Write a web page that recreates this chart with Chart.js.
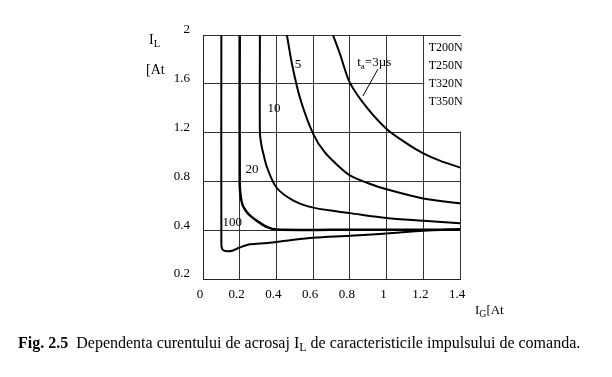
<!DOCTYPE html>
<html>
<head>
<meta charset="utf-8">
<script src="https://cdn.jsdelivr.net/npm/chart.js@4"></script>
<style>
  body { margin: 0; background: #fff; }
  #wrap { position: relative; width: 612px; height: 377px; font-family: "Liberation Serif", "Times New Roman", serif; color: #000; }
  #wrap canvas { position: absolute; left: 0; top: 0; }
  .txt { position: absolute; white-space: nowrap; line-height: 1; }
  sub { font-size: 75%; vertical-align: -3px; line-height: 0; }
</style>
</head>
<body>
<div id="wrap">
  <canvas id="chart" width="612" height="377"></canvas>
  <div class="txt" style="left:149px; top:33px; font-size:14px;">I<sub>L</sub></div>
  <div class="txt" style="left:146px; top:63px; font-size:14px;">[At</div>
  <div class="txt" style="left:475px; top:303px; font-size:13px;">I<sub>G</sub>[At</div>
  <div class="txt" style="left:18px; top:335px; font-size:16px;"><b>Fig. 2.5</b>&nbsp; Dependenta curentului de acrosaj I<sub>L</sub> de caracteristicile impulsului de comanda.</div>
</div>
<script>
// tick labels as printed on the figure
const xTickLabels = ['0', '0.2', '0.4', '0.6', '0.8', '1', '1.2', '1.4'];
const yTickLabels = ['0.2', '0.4', '0.8', '1.2', '1.6', '2'];

// thyristor types listed in the corner
const deviceNames = ['T200N', 'T250N', 'T320N', 'T350N'];

// curve 100
const curve100X = [0.1, 0.1, 0.104, 0.115, 0.135, 0.16, 0.2, 0.256, 0.35, 0.474, 0.6, 0.8, 1.0, 1.2, 1.4];
const curve100Y = [2.0, 0.29, 0.248, 0.232, 0.228, 0.232, 0.258, 0.284, 0.295, 0.318, 0.338, 0.354, 0.373, 0.395, 0.41];

// curve 20
const curve20X = [0.2, 0.2, 0.205, 0.215, 0.235, 0.26, 0.3, 0.35, 0.4, 0.7, 1.0, 1.4];
const curve20Y = [2.0, 0.78, 0.68, 0.61, 0.555, 0.515, 0.47, 0.425, 0.405, 0.403, 0.403, 0.404];

// curve 10
const curve10X = [0.31, 0.31, 0.318, 0.33, 0.35, 0.4, 0.49, 0.6, 0.75, 0.8, 1.0, 1.2, 1.4];
const curve10Y = [2.0, 1.2, 1.1, 1.02, 0.91, 0.75, 0.645, 0.585, 0.55, 0.54, 0.5, 0.478, 0.457];

// curve 5
const curve5X = [0.457, 0.485, 0.528, 0.6, 0.664, 0.746, 0.8, 0.9, 1.0, 1.2, 1.4];
const curve5Y = [2.0, 1.76, 1.486, 1.19, 1.037, 0.914, 0.849, 0.785, 0.735, 0.66, 0.62];

// curve ta = 3us
const curve3X = [0.708, 0.746, 0.8, 0.893, 1.0, 1.111, 1.2, 1.29, 1.4];
const curve3Y = [2.0, 1.845, 1.61, 1.404, 1.23, 1.11, 1.03, 0.97, 0.914];

// text placed next to the curves (data units)
const curveNotes = [
    { text: '5', x: 0.5, y: 1.76 },
    { text: '10', x: 0.352, y: 1.4 },
    { text: '20', x: 0.232, y: 0.9 },
    { text: '100', x: 0.106, y: 0.465 }
];

function toPoints(xs, ys) {
    return xs.map((x, i) => ({ x: x, y: ys[i] }));
}

const serif = '"Liberation Serif", "Times New Roman", serif';

const figurePlugin = {
    id: 'figure',
    beforeDatasetsDraw(chart) {
        const ctx = chart.ctx;
        const xs = chart.scales.x;
        const ys = chart.scales.y;
        const left = xs.getPixelForValue(1.2);
        const right = xs.getPixelForValue(1.4);
        const top = ys.getPixelForValue(2);
        const mid = ys.getPixelForValue(1.2);

        // open box for the device list, no grid inside
        ctx.save();
        ctx.fillStyle = '#fff';
        ctx.fillRect(left + 1, top + 1, right - left + 3, mid - top - 2);
        ctx.restore();
    },
    afterDraw(chart) {
        const ctx = chart.ctx;
        const xs = chart.scales.x;
        const ys = chart.scales.y;

        ctx.save();
        ctx.fillStyle = '#000';
        ctx.textBaseline = 'middle';
        ctx.font = '13px ' + serif;
        curveNotes.forEach(n => {
            ctx.fillText(n.text, xs.getPixelForValue(n.x), ys.getPixelForValue(n.y));
        });

        // device list
        ctx.font = '12px ' + serif;
        deviceNames.forEach((name, i) => {
            ctx.fillText(name, xs.getPixelForValue(1.23), ys.getPixelForValue(1.894 - i * 0.147));
        });

        // ta = 3us label with leader
        ctx.font = '13px ' + serif;
        let px = xs.getPixelForValue(0.84);
        const py = ys.getPixelForValue(1.77);
        ctx.fillText('t', px, py);
        px += ctx.measureText('t').width;
        ctx.font = '9px ' + serif;
        ctx.fillText('a', px, py + 4);
        px += ctx.measureText('a').width;
        ctx.font = '13px ' + serif;
        ctx.fillText('=3\u00b5s', px, py);

        ctx.strokeStyle = '#000';
        ctx.lineWidth = 1;
        ctx.beginPath();
        ctx.moveTo(xs.getPixelForValue(0.953), ys.getPixelForValue(1.72));
        ctx.lineTo(xs.getPixelForValue(0.871), ys.getPixelForValue(1.5));
        ctx.stroke();
        ctx.restore();
    }
};

const lineStyle = {
    borderColor: '#000',
    borderWidth: 2,
    pointRadius: 0,
    tension: 0.3,
    fill: false
};

new Chart(document.getElementById('chart'), {
    type: 'line',
    data: {
        datasets: [
            Object.assign({ label: '100', data: toPoints(curve100X, curve100Y) }, lineStyle),
            Object.assign({ label: '20', data: toPoints(curve20X, curve20Y) }, lineStyle, { borderWidth: 2.5 }),
            Object.assign({ label: '10', data: toPoints(curve10X, curve10Y) }, lineStyle),
            Object.assign({ label: '5', data: toPoints(curve5X, curve5Y) }, lineStyle),
            Object.assign({ label: '3us', data: toPoints(curve3X, curve3Y) }, lineStyle)
        ]
    },
    options: {
        responsive: false,
        animation: false,
        layout: { padding: { left: 0, right: 152, top: 35, bottom: 0 } },
        plugins: {
            legend: { display: false },
            tooltip: { enabled: false }
        },
        scales: {
            x: {
                type: 'linear',
                min: 0,
                max: 1.4,
                afterFit(scale) { scale.height = 98; },
                border: { color: '#222', width: 1 },
                grid: { color: '#333', lineWidth: 1, drawTicks: false },
                ticks: {
                    stepSize: 0.2,
                    padding: 8,
                    labelOffset: -3,
                    color: '#000',
                    font: { family: serif, size: 13 },
                    callback: (v, i) => xTickLabels[i]
                }
            },
            y: {
                type: 'linear',
                min: 0,
                max: 2,
                afterFit(scale) { scale.width = 203; },
                border: { color: '#222', width: 1 },
                grid: { color: '#333', lineWidth: 1, drawTicks: false },
                ticks: {
                    stepSize: 0.4,
                    padding: 13,
                    labelOffset: -5,
                    color: '#000',
                    font: { family: serif, size: 13 },
                    callback: (v, i) => yTickLabels[i]
                }
            }
        }
    },
    plugins: [figurePlugin]
});
</script>
</body>
</html>
